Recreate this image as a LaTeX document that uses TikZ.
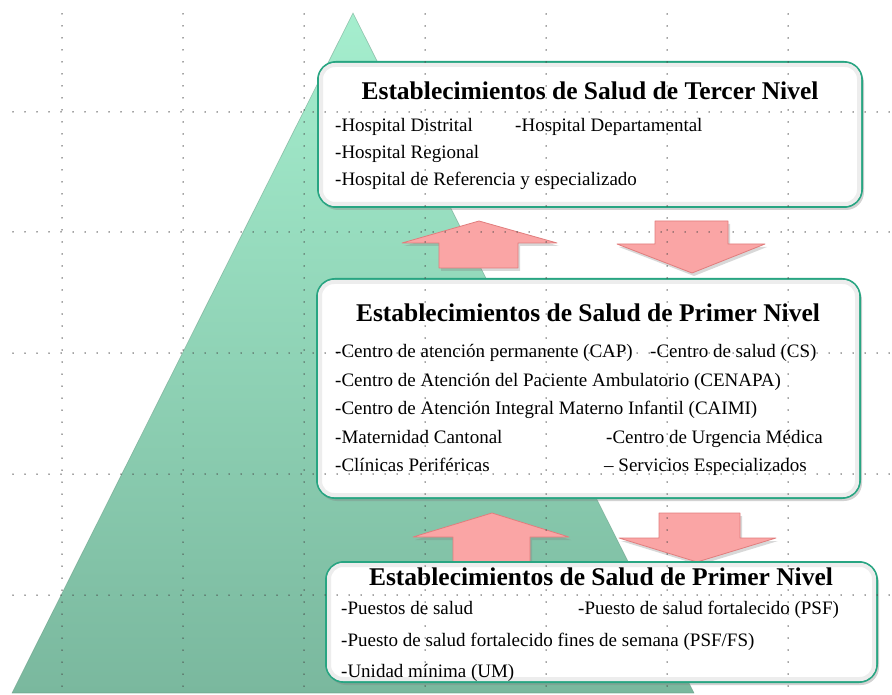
\documentclass[tikz,border=0pt]{standalone}
\usepackage{fontspec}
\setmainfont{Liberation Serif}
\usetikzlibrary{shadows}
\definecolor{pyrtop}{RGB}{165,238,206}
\definecolor{pyrbot}{RGB}{122,184,158}
\definecolor{boxedge}{RGB}{40,165,130}
\definecolor{arrowpink}{RGB}{250,165,165}
\definecolor{arrowedge}{RGB}{225,125,125}
\definecolor{griddot}{RGB}{70,70,70}
\tikzset{
  levelbox/.style={draw=boxedge, line width=2pt, fill=white, rounded corners=18pt,
    inner sep=0pt, drop shadow={shadow xshift=2pt, shadow yshift=-3pt, opacity=0.35}},
  glow/.style={draw=black!7, line width=4pt, rounded corners=14pt},
  blockarrow/.style={fill=arrowpink, draw=arrowedge, line width=0.8pt, line join=round,
    drop shadow={shadow xshift=2pt, shadow yshift=-3pt, opacity=0.3}},
  gridline/.style={draw=griddot, line width=1.5pt, line cap=round, dash pattern=on 0pt off 12pt},
  titletext/.style={anchor=base, inner sep=0pt, font=\fontsize{25.5}{28}\selectfont\bfseries},
  itemtext/.style={anchor=base west, inner sep=0pt, font=\fontsize{19}{21}\selectfont}
}
\begin{document}
\begin{tikzpicture}[x=1pt,y=-1pt]
\useasboundingbox (0,0) rectangle (892,695);
\fill[white] (0,0) rectangle (892,695);
% pyramid
\shade[top color=pyrtop, bottom color=pyrbot] (353,13) -- (694,693) -- (12,693) -- cycle;
\draw[pyrbot!80!black, line width=0.6pt, opacity=0.5] (353,13) -- (694,693) -- (12,693) -- cycle;
% arrows
\path[blockarrow] (479,221) -- (557,243) -- (518,243) -- (518,268) -- (439,268) -- (439,243) -- (402,243) -- cycle;
\path[blockarrow] (655,221) -- (728,221) -- (728,244) -- (765,244) -- (692,273) -- (617,244) -- (655,244) -- cycle;
\path[blockarrow] (492,513) -- (569,537) -- (530,537) -- (530,562) -- (453,562) -- (453,537) -- (413,537) -- cycle;
\path[blockarrow] (659,513) -- (740,513) -- (740,538) -- (776,538) -- (697,562) -- (619,538) -- (659,538) -- cycle;
% boxes
\node[levelbox, minimum width=544pt, minimum height=145pt] (b1) at (590,134.5) {};
\node[levelbox, minimum width=543pt, minimum height=219pt] (b2) at (588.5,388.5) {};
\node[levelbox, minimum width=551pt, minimum height=120pt] (b3) at (601.5,622) {};
\foreach \b in {b1,b2,b3}
  \draw[glow] ([shift={(4,4)}]\b.north west) rectangle ([shift={(-4,-4)}]\b.south east);
% grid
\foreach \gx in {62,183,304,425,546,667,788}
  \draw[gridline] (\gx,14) -- (\gx,695);
\foreach \gy in {112,232,353,474,595}
  \draw[gridline] (13,\gy) -- (892,\gy);
% texts box 1
\node[titletext] (t1) at (590,100) {Establecimientos de Salud de Tercer Nivel};
\node[itemtext] (i11) at (335,132) {-Hospital Distrital};
\node[itemtext] (i12) at (515,132) {-Hospital Departamental};
\node[itemtext] (i13) at (335,159) {-Hospital Regional};
\node[itemtext] (i14) at (335,186) {-Hospital de Referencia y especializado};
% texts box 2
\node[titletext] (t2) at (588,321) {Establecimientos de Salud de Primer Nivel};
\node[itemtext] (i21) at (335,357) {-Centro de atención permanente (CAP)};
\node[itemtext] (i22) at (650,357) {-Centro de salud (CS)};
\node[itemtext] (i23) at (335,386) {-Centro de Atención del Paciente Ambulatorio (CENAPA)};
\node[itemtext] (i24) at (335,414) {-Centro de Atención Integral Materno Infantil (CAIMI)};
\node[itemtext] (i25) at (335,443) {-Maternidad Cantonal};
\node[itemtext] (i26) at (606,443) {-Centro de Urgencia Médica};
\node[itemtext] (i27) at (335,471) {-Clínicas Periféricas};
\node[itemtext] (i28) at (604,471) {– Servicios Especializados};
% texts box 3
\node[titletext] (t3) at (601,585) {Establecimientos de Salud de Primer Nivel};
\node[itemtext] (i31) at (341,614) {-Puestos de salud};
\node[itemtext] (i32) at (578,614) {-Puesto de salud fortalecido (PSF)};
\node[itemtext] (i33) at (341,646) {-Puesto de salud fortalecido fines de semana (PSF/FS)};
\node[itemtext] (i34) at (341,677) {-Unidad mínima (UM)};
\end{tikzpicture}
\end{document}
